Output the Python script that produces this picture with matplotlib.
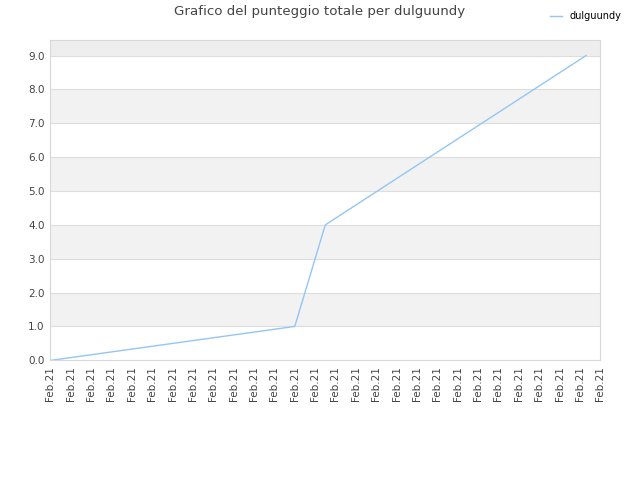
import matplotlib
matplotlib.use("Agg")
import matplotlib.pyplot as plt

# data
n_ticks = 28
tick_labels = ["Feb.21"] * n_ticks
x_pos = [0.05, 12.0, 13.5, 26.3]
score = [0.0, 1.0, 4.0, 9.0]
y_ticks = [0, 1, 2, 3, 4, 5, 6, 7, 8, 9]

fig = plt.figure(figsize=(6.4, 4.8), dpi=100)
ax = fig.add_axes([0.0786, 0.2494, 0.8594, 0.6666])

ymax = 9.45
# alternating bands
for i in range(0, 10):
    if i % 2 == 1:
        ax.axhspan(i, i + 1, color="#f2f2f2", lw=0, zorder=0)
ax.axhspan(9, ymax, color="#eeeeee", lw=0, zorder=0)
for y in y_ticks[1:]:
    ax.axhline(y, color="#dddddd", lw=0.8, zorder=1)

ax.plot(x_pos, score, color="#94c6f5", lw=1.0, label="dulguundy", zorder=3)

ax.set_xlim(0, n_ticks - 1)
ax.set_ylim(0, ymax)
ax.set_xticks(range(n_ticks))
ax.set_xticklabels(tick_labels, rotation=90, fontsize=7.5, color="#444444")
ax.set_yticks(y_ticks)
ax.set_yticklabels(["%.1f" % v for v in y_ticks], fontsize=7.5, color="#444444")
ax.tick_params(length=0, pad=4)
for s in ax.spines.values():
    s.set_color("#d8d8d8")
    s.set_linewidth(0.8)

fig.text(0.5, 0.99, "Grafico del punteggio totale per dulguundy",
         ha="center", va="top", fontsize=9.6, color="#444444")
fig.legend(loc="upper right", bbox_to_anchor=(0.985, 0.995), frameon=False,
           fontsize=7, handlelength=1.2, handletextpad=0.8)

fig.savefig("out.png", dpi=100)
